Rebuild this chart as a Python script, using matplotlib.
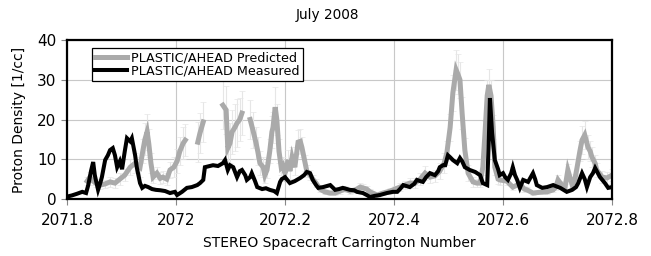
import numpy as np
import matplotlib
matplotlib.use("Agg")
import matplotlib.pyplot as plt

# STEREO-A PLASTIC proton density, July 2008
meas_x = [2071.800, 2071.809, 2071.818, 2071.828, 2071.835, 2071.839, 2071.844, 2071.848,
          2071.851, 2071.857, 2071.861, 2071.864, 2071.870, 2071.875, 2071.879, 2071.884,
          2071.888, 2071.892, 2071.897, 2071.901, 2071.906, 2071.910, 2071.916, 2071.919,
          2071.925, 2071.928, 2071.934, 2071.938, 2071.943, 2071.949, 2071.956, 2071.963,
          2071.971, 2071.980, 2071.989, 2071.998, 2072.002, 2072.011, 2072.020, 2072.029,
          2072.039, 2072.044, 2072.050, 2072.053, 2072.059, 2072.068, 2072.077, 2072.086,
          2072.090, 2072.095, 2072.099, 2072.105, 2072.112, 2072.117, 2072.121, 2072.127,
          2072.130, 2072.136, 2072.139, 2072.145, 2072.149, 2072.158, 2072.165, 2072.172,
          2072.180, 2072.185, 2072.191, 2072.194, 2072.200, 2072.206, 2072.209, 2072.218,
          2072.228, 2072.235, 2072.240, 2072.246, 2072.251, 2072.257, 2072.261, 2072.270,
          2072.275, 2072.283, 2072.292, 2072.299, 2072.306, 2072.314, 2072.319, 2072.327,
          2072.332, 2072.343, 2072.350, 2072.356, 2072.365, 2072.374, 2072.387, 2072.398,
          2072.406, 2072.411, 2072.417, 2072.424, 2072.429, 2072.437, 2072.442, 2072.448,
          2072.453, 2072.459, 2072.466, 2072.475, 2072.481, 2072.484, 2072.490, 2072.494,
          2072.499, 2072.503, 2072.508, 2072.516, 2072.521, 2072.525, 2072.530, 2072.539,
          2072.549, 2072.558, 2072.563, 2072.571, 2072.574, 2072.576, 2072.580, 2072.585,
          2072.591, 2072.594, 2072.600, 2072.604, 2072.609, 2072.615, 2072.618, 2072.622,
          2072.626, 2072.631, 2072.637, 2072.646, 2072.651, 2072.655, 2072.659, 2072.662,
          2072.672, 2072.681, 2072.692, 2072.705, 2072.717, 2072.727, 2072.734, 2072.738,
          2072.745, 2072.750, 2072.754, 2072.760, 2072.765, 2072.769, 2072.774, 2072.778,
          2072.787, 2072.793, 2072.800]
meas_y = [0.6, 0.9, 1.3, 1.8, 1.5, 3.5, 7.0, 9.3,
          6.0, 2.3, 4.0, 5.5, 9.8, 11.0, 12.3, 12.8,
          11.0, 8.0, 9.5, 7.5, 12.0, 15.3, 14.5, 15.3,
          11.0, 8.0, 4.0, 2.8, 3.3, 3.0, 2.5, 2.3,
          2.2, 2.0, 1.5, 1.8, 1.0, 1.8, 2.8, 3.0,
          3.5, 4.0, 4.8, 8.0, 8.2, 8.5, 8.3, 9.0,
          9.8, 7.3, 8.5, 8.0, 5.5, 7.0, 7.3, 6.0,
          4.8, 5.5, 6.5, 4.5, 3.0, 2.5, 2.7, 2.3,
          2.0, 1.5, 4.3, 5.0, 5.5, 4.5, 4.0, 4.5,
          5.3, 6.0, 6.8, 6.5, 4.8, 3.5, 2.8, 3.0,
          3.2, 3.5, 2.3, 2.5, 2.8, 2.5, 2.3, 2.2,
          1.8, 1.5, 1.0, 0.5, 0.8, 1.0, 1.5, 1.8,
          1.8, 2.5, 3.5, 3.2, 3.0, 3.8, 4.8, 4.5,
          4.3, 5.5, 6.5, 6.0, 7.0, 8.0, 8.5, 8.5,
          11.0, 10.5, 9.8, 9.0, 10.3, 9.5, 8.0, 7.3,
          6.8, 6.0, 4.0, 3.5, 15.0, 25.4, 16.6, 9.8,
          7.5, 6.0, 6.5, 5.5, 4.8, 6.5, 8.0, 6.0,
          4.8, 2.8, 4.8, 4.3, 5.5, 6.5, 5.0, 3.5,
          2.8, 3.0, 3.5, 2.8, 1.8, 2.3, 3.0, 4.0,
          6.5, 5.0, 3.0, 5.5, 6.5, 7.8, 6.5, 5.5,
          4.0, 2.8, 3.0]

nan = np.nan
pred_x = [2071.837, 2071.842, 2071.848, 2071.853, 2071.861, 2071.870, 2071.879, 2071.888,
          2071.897, 2071.906, 2071.916, 2071.925, 2071.934, 2071.939, 2071.943, 2071.947,
          2071.950, 2071.954, 2071.958, 2071.965, 2071.971, 2071.976, 2071.983, 2071.989,
          2071.996, 2072.002, 2072.007, 2072.013, 2072.017, 2072.025, 2072.040, 2072.044,
          2072.050, 2072.065, 2072.086, 2072.092, 2072.095, 2072.099, 2072.103, 2072.108,
          2072.112, 2072.117, 2072.121, 2072.127, 2072.136, 2072.141, 2072.147, 2072.150,
          2072.154, 2072.160, 2072.163, 2072.167, 2072.172, 2072.176, 2072.178, 2072.182,
          2072.185, 2072.189, 2072.193, 2072.196, 2072.200, 2072.206, 2072.209, 2072.213,
          2072.218, 2072.224, 2072.228, 2072.231, 2072.237, 2072.240, 2072.246, 2072.251,
          2072.257, 2072.264, 2072.273, 2072.283, 2072.292, 2072.301, 2072.310, 2072.319,
          2072.328, 2072.338, 2072.343, 2072.350, 2072.356, 2072.369, 2072.380, 2072.393,
          2072.402, 2072.411, 2072.420, 2072.429, 2072.439, 2072.448, 2072.457, 2072.466,
          2072.475, 2072.484, 2072.492, 2072.497, 2072.503, 2072.508, 2072.514, 2072.517,
          2072.521, 2072.525, 2072.530, 2072.536, 2072.545, 2072.552, 2072.558, 2072.563,
          2072.567, 2072.571, 2072.574, 2072.578, 2072.582, 2072.585, 2072.591, 2072.594,
          2072.607, 2072.618, 2072.631, 2072.639, 2072.644, 2072.655, 2072.668, 2072.681,
          2072.692, 2072.697, 2072.701, 2072.708, 2072.714, 2072.719, 2072.727, 2072.732,
          2072.736, 2072.741, 2072.745, 2072.750, 2072.756, 2072.760, 2072.763, 2072.769,
          2072.772, 2072.782, 2072.791, 2072.800]
pred_y = [4.5, 5.5, 4.5, 4.0, 3.5, 3.8, 4.3, 4.0,
          5.0, 6.0, 8.0, 9.0, 8.0, 12.0, 15.0, 16.9,
          14.0, 9.0, 5.5, 6.5, 5.2, 5.5, 5.0, 7.3,
          8.0, 9.5, 12.0, 14.0, 14.8, nan, 14.3, 16.6,
          19.4, nan, 23.6, 22.4, 12.8, 14.0, 16.9, 18.0,
          19.1, 20.0, 21.6, nan, 20.0, 17.4, 14.0, 12.0,
          9.0, 8.0, 6.0, 7.3, 12.0, 16.9, 18.0, 23.1,
          20.0, 12.0, 8.0, 8.5, 6.5, 9.8, 7.0, 10.5,
          8.0, 14.3, 14.5, 13.0, 9.0, 7.0, 6.0, 5.0,
          4.0, 2.5, 1.8, 1.5, 1.5, 2.0, 2.5, 2.0,
          2.2, 3.0, 2.8, 2.5, 1.8, 1.0, 1.5, 2.0,
          2.5, 3.0, 3.5, 4.0, 4.0, 5.0, 6.5, 5.5,
          5.8, 7.0, 9.0, 11.6, 18.0, 26.7, 32.5, 31.5,
          30.0, 21.6, 12.3, 6.5, 4.3, 4.0, 4.0, 8.0,
          16.6, 26.0, 28.7, 26.0, 18.1, 8.0, 5.0, 4.8,
          4.5, 3.0, 3.8, 2.5, 2.3, 1.5, 1.7, 1.8,
          2.3, 3.0, 4.8, 3.5, 3.0, 7.3, 3.5, 5.0,
          8.0, 12.0, 14.8, 16.1, 13.0, 12.0, 10.6, 9.0,
          7.3, 5.5, 5.3, 6.0]
pred_err = [1.0, 1.2, 1.0, 1.0, 1.0, 1.0, 1.2, 1.2,
            1.5, 1.5, 2.0, 2.5, 2.5, 3.0, 4.0, 4.5,
            3.5, 2.5, 1.5, 1.5, 1.5, 1.5, 1.5, 2.0,
            2.5, 3.0, 3.5, 4.0, 4.0, 0.0, 5.0, 5.0,
            5.0, 0.0, 6.0, 6.0, 4.5, 5.0, 5.5, 6.0,
            6.0, 5.5, 5.5, 0.0, 5.0, 4.5, 4.0, 3.5,
            3.0, 2.5, 2.0, 2.0, 3.0, 4.0, 4.0, 5.0,
            4.0, 3.0, 2.0, 2.0, 2.0, 2.5, 2.0, 2.5,
            2.0, 3.0, 3.0, 2.5, 2.0, 1.5, 1.2, 1.0,
            1.0, 0.8, 0.6, 0.6, 0.6, 0.8, 0.8, 0.8,
            0.8, 1.0, 1.0, 0.8, 0.6, 0.5, 0.6, 0.8,
            0.8, 1.0, 1.0, 1.2, 1.2, 1.5, 1.8, 1.5,
            1.5, 2.0, 2.5, 3.0, 3.5, 4.5, 5.0, 5.0,
            4.5, 4.0, 3.0, 2.0, 1.2, 1.0, 1.0, 2.0,
            3.0, 4.0, 4.0, 4.0, 3.0, 2.0, 1.2, 1.2,
            1.0, 0.8, 1.0, 0.8, 0.6, 0.5, 0.5, 0.5,
            0.6, 0.8, 1.2, 1.0, 0.8, 1.5, 1.0, 1.2,
            2.0, 2.5, 3.5, 3.5, 3.0, 2.5, 2.5, 2.0,
            1.8, 1.5, 1.5, 1.5]

xticks = [2071.8, 2072.0, 2072.2, 2072.4, 2072.6, 2072.8]
xtick_labels = ["2071.8", "2072", "2072.2", "2072.4", "2072.6", "2072.8"]
yticks = [0, 10, 20, 30, 40]

plt.rcParams['font.family'] = ['DejaVu Sans']

fig = plt.figure(figsize=(6.51, 2.56), dpi=100)
ax = fig.add_axes([67 / 651, 57 / 256, 545 / 651, 159 / 256])

# faint uncertainty bars behind the predicted curve
ax.errorbar(pred_x, pred_y, yerr=pred_err, fmt='none', ecolor='#e6e6e6',
            elinewidth=0.8, capsize=2, capthick=0.5, zorder=1)
ax.plot(pred_x, pred_y, color='#aaaaaa', lw=3.6, solid_joinstyle='miter',
        label='PLASTIC/AHEAD Predicted', zorder=2)
ax.plot(meas_x, meas_y, color='black', lw=2.9, solid_joinstyle='miter',
        label='PLASTIC/AHEAD Measured', zorder=3)

ax.set_xlim(2071.8, 2072.8)
ax.set_ylim(0, 40)
ax.set_xticks(xticks)
ax.set_xticklabels(xtick_labels)
ax.set_yticks(yticks)
ax.tick_params(axis='both', labelsize=11, direction='out', length=4, width=0.8,
               color='#888888')
ax.tick_params(axis='x', pad=6)
ax.grid(True, color='#c8c8c8', lw=0.8)
ax.set_axisbelow(True)
for sp in ax.spines.values():
    sp.set_linewidth(1.6)

ax.set_xlabel('STEREO Spacecraft Carrington Number', fontsize=10, labelpad=6)
ax.set_ylabel('Proton Density [1/cc]', fontsize=10, labelpad=8)
fig.text(327 / 651, 1 - 15 / 256, 'July 2008', ha='center', va='center', fontsize=9.8)

leg = ax.legend(loc='upper left', bbox_to_anchor=(0.046, 0.95), borderaxespad=0,
                fontsize=9.2, frameon=True, fancybox=False, framealpha=1,
                edgecolor='black', handlelength=2.5, handletextpad=0.3,
                labelspacing=0.05, borderpad=0.25)
leg.get_frame().set_linewidth(0.9)

fig.savefig('out.png', dpi=100)
